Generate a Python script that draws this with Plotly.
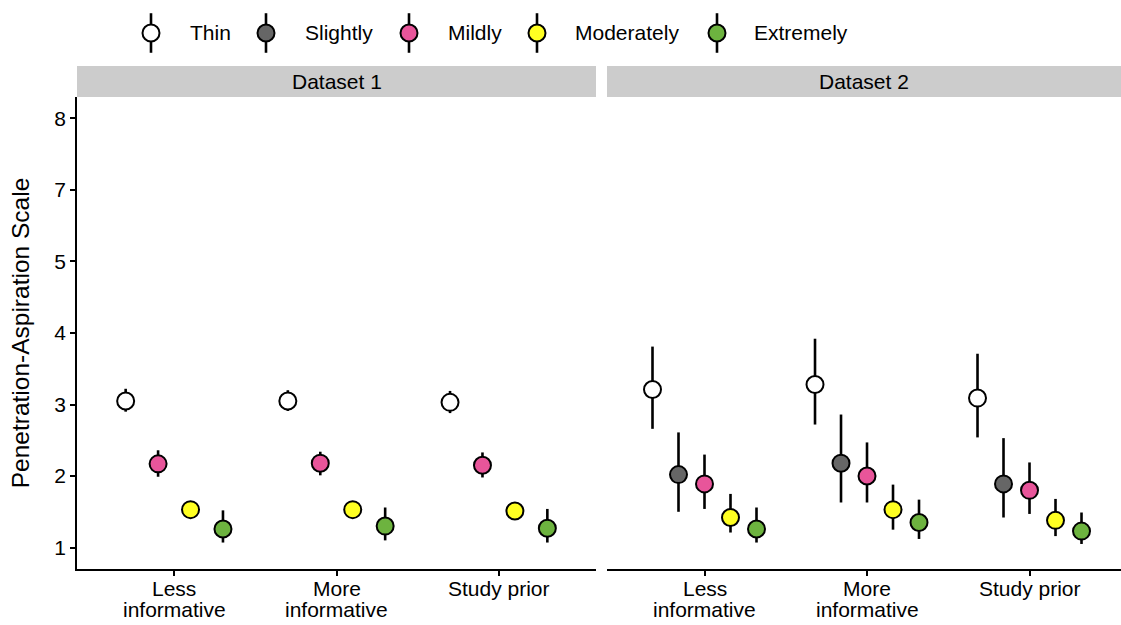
import plotly.graph_objects as go

# ---- data ---------------------------------------------------------------
priors = ["Less informative", "More informative", "Study prior"]
prior_label_lines = [["Less", "informative"], ["More", "informative"], ["Study prior"]]
groups = ["Thin", "Slightly", "Mildly", "Moderately", "Extremely"]
colors = ["#FFFFFF", "#666666", "#E8559A", "#FFFF22", "#6DB33F"]

# y-axis: positions 1..7 carry the labels below
y_tickvals = [1, 2, 3, 4, 5, 6, 7]
y_ticktext = ["1", "2", "3", "4", "5", "7", "8"]

# Dataset 1 (no "Slightly" group): estimate, lower, upper per prior
d1_thin_est = [3.05, 3.05, 3.03]
d1_thin_lo = [2.90, 2.91, 2.88]
d1_thin_hi = [3.22, 3.20, 3.19]
d1_mild_est = [2.17, 2.18, 2.15]
d1_mild_lo = [1.99, 2.01, 1.98]
d1_mild_hi = [2.36, 2.34, 2.33]
d1_mod_est = [1.53, 1.53, 1.51]
d1_mod_lo = [1.45, 1.45, 1.43]
d1_mod_hi = [1.62, 1.62, 1.60]
d1_ext_est = [1.26, 1.30, 1.27]
d1_ext_lo = [1.07, 1.10, 1.07]
d1_ext_hi = [1.52, 1.56, 1.54]

# Dataset 2
d2_thin_est = [3.21, 3.28, 3.09]
d2_thin_lo = [2.66, 2.72, 2.54]
d2_thin_hi = [3.81, 3.92, 3.71]
d2_slight_est = [2.02, 2.18, 1.89]
d2_slight_lo = [1.50, 1.63, 1.42]
d2_slight_hi = [2.61, 2.86, 2.53]
d2_mild_est = [1.89, 2.00, 1.80]
d2_mild_lo = [1.54, 1.63, 1.47]
d2_mild_hi = [2.30, 2.47, 2.19]
d2_mod_est = [1.42, 1.53, 1.38]
d2_mod_lo = [1.21, 1.25, 1.16]
d2_mod_hi = [1.75, 1.88, 1.68]
d2_ext_est = [1.26, 1.35, 1.23]
d2_ext_lo = [1.07, 1.12, 1.05]
d2_ext_hi = [1.56, 1.67, 1.49]

datasets = {
    "Dataset 1": {
        "Thin": (d1_thin_est, d1_thin_lo, d1_thin_hi),
        "Mildly": (d1_mild_est, d1_mild_lo, d1_mild_hi),
        "Moderately": (d1_mod_est, d1_mod_lo, d1_mod_hi),
        "Extremely": (d1_ext_est, d1_ext_lo, d1_ext_hi),
    },
    "Dataset 2": {
        "Thin": (d2_thin_est, d2_thin_lo, d2_thin_hi),
        "Slightly": (d2_slight_est, d2_slight_lo, d2_slight_hi),
        "Mildly": (d2_mild_est, d2_mild_lo, d2_mild_hi),
        "Moderately": (d2_mod_est, d2_mod_lo, d2_mod_hi),
        "Extremely": (d2_ext_est, d2_ext_lo, d2_ext_hi),
    },
}

# ---- styling --------------------------------------------------------------
FONT = "Liberation Sans, Arial, Helvetica, sans-serif"
W, H = 1121, 625
ML, MR, MT, MB = 77, 0, 0, 56
PH = H - MT - MB          # paper height in px
PW = W - ML - MR          # paper width in px
DODGE = 0.8
MSIZE = 17
TXT = 21


def py(px):
    """paper y from a pixel row"""
    return (H - MB - px) / PH


panel_top = py(97)
strip_top = py(66)

fig = go.Figure()

axis_ids = [("x", "y"), ("x2", "y2")]
for (xa, ya), (dname, series) in zip(axis_ids, datasets.items()):
    n = len(series)
    for i, (g, (est, lo, hi)) in enumerate(series.items()):
        off = (i - (n - 1) / 2) * DODGE / n
        xs = [k + off for k in range(len(priors))]
        fig.add_trace(go.Scatter(
            x=xs, y=est, xaxis=xa, yaxis=ya, mode="markers",
            name=g, showlegend=False,
            marker=dict(size=MSIZE, color=colors[groups.index(g)],
                        line=dict(color="black", width=2)),
            error_y=dict(type="data", symmetric=False,
                         array=[h - e for h, e in zip(hi, est)],
                         arrayminus=[e - l for e, l in zip(est, lo)],
                         color="black", thickness=2.6, width=0),
        ))

# legend row drawn on its own axis
leg_marker_px = [151, 266, 409, 537, 717]
leg_text_px = [188, 303, 446, 573, 752]
fig.add_trace(go.Scatter(
    x=leg_marker_px, y=[0.5] * len(groups), xaxis="x3", yaxis="y3",
    mode="markers", showlegend=False, hoverinfo="skip",
    marker=dict(size=MSIZE, color=colors, line=dict(color="black", width=2)),
    error_y=dict(type="constant", value=0.43, color="black",
                 thickness=2.6, width=0),
))
annotations = []
for g, tx in zip(groups, leg_text_px):
    annotations.append(dict(x=tx, y=0.5, xref="x3", yref="y3", text=g,
                            showarrow=False, xanchor="left", yanchor="middle",
                            font=dict(size=TXT, color="black", family=FONT)))

# facet strips and category labels
shapes = []
line_rows_px = [588, 609]
for xa, dname in zip(["x", "x2"], datasets.keys()):
    shapes.append(dict(type="rect", xref=f"{xa} domain", yref="paper",
                       x0=0, x1=1, y0=panel_top, y1=strip_top,
                       fillcolor="#CCCCCC", line=dict(width=0), layer="below"))
    annotations.append(dict(x=0.5, y=(panel_top + strip_top) / 2,
                            xref=f"{xa} domain", yref="paper", text=dname,
                            showarrow=False, xanchor="center", yanchor="middle",
                            font=dict(size=TXT, color="black", family=FONT)))
    for k, lines in enumerate(prior_label_lines):
        for j, ln in enumerate(lines):
            annotations.append(dict(x=k, y=py(line_rows_px[j]), xref=xa,
                                    yref="paper", text=ln, showarrow=False,
                                    xanchor="center", yanchor="middle",
                                    font=dict(size=TXT, color="black",
                                              family=FONT)))

common_x = dict(
    tickmode="array", tickvals=[0, 1, 2], showticklabels=False,
    showline=True, linecolor="black", linewidth=1.5,
    ticks="outside", ticklen=5, tickwidth=1.5, tickcolor="black",
    showgrid=False, zeroline=False,
)
common_y = dict(
    range=[0.7, 7.3], tickmode="array", tickvals=y_tickvals,
    ticktext=y_ticktext, showgrid=False, zeroline=False,
)

fig.update_layout(
    width=W, height=H,
    margin=dict(l=ML, r=MR, t=MT, b=MB, autoexpand=False),
    paper_bgcolor="white", plot_bgcolor="white",
    showlegend=False,
    font=dict(family=FONT, color="black"),
    xaxis=dict(domain=[0, 519 / PW], range=[-0.6, 2.6], anchor="y",
               **common_x),
    xaxis2=dict(domain=[530 / PW, 1], range=[-0.6, 2.563], anchor="y2",
                **common_x),
    yaxis=dict(domain=[0, panel_top], anchor="x",
               showline=True, linecolor="black", linewidth=1.5,
               ticks="outside", ticklen=5, tickwidth=1.5, tickcolor="black",
               tickfont=dict(size=TXT, color="black", family=FONT),
               title=dict(text="Penetration-Aspiration Scale", standoff=18,
                          font=dict(size=24.5, color="black", family=FONT)),
               **common_y),
    yaxis2=dict(domain=[0, panel_top], anchor="x2", matches="y",
                showline=False, showticklabels=False, ticks="",
                **common_y),
    xaxis3=dict(domain=[0, 1], range=[ML, W - MR], anchor="y3",
                visible=False, fixedrange=True),
    yaxis3=dict(domain=[py(56), py(10)], range=[0, 1], anchor="x3",
                visible=False, fixedrange=True),
    shapes=shapes,
    annotations=annotations,
)

fig.write_html("out.html")
